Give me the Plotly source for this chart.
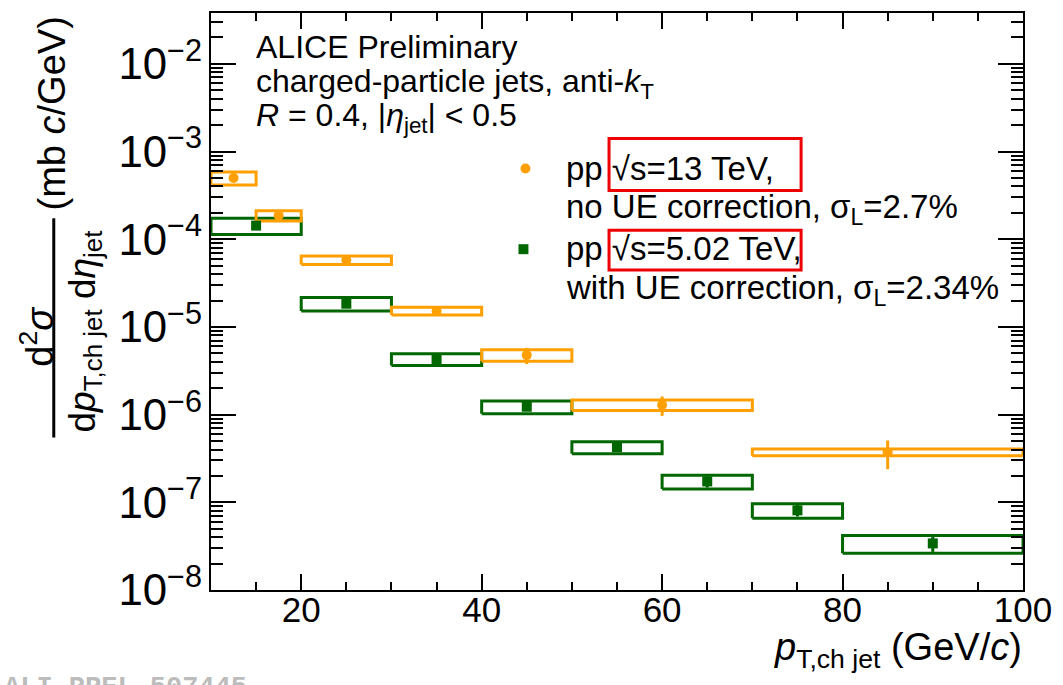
import numpy as np
import plotly.graph_objects as go

# ---------------- data ----------------
# pp 13 TeV, no UE correction
pt13_lo = [10, 15, 20, 30, 40, 50, 70]
pt13_hi = [15, 20, 30, 40, 50, 70, 100]
xs13 = [5.0e-4, 1.86e-4, 5.8e-5, 1.52e-5, 4.77e-6, 1.29e-6, 3.73e-7]
stat13 = [0.03, 0.03, 0.03, 0.04, 0.21, 0.25, 0.36]   # relative
sys13 = [0.17, 0.135, 0.11, 0.10, 0.15, 0.135, 0.09]   # relative

# pp 5.02 TeV, with UE correction
pt5_lo = [10, 20, 30, 40, 50, 60, 70, 80]
pt5_hi = [20, 30, 40, 50, 60, 70, 80, 100]
xs5 = [1.43e-4, 1.84e-5, 4.30e-6, 1.23e-6, 4.25e-7, 1.73e-7, 8.1e-8, 3.40e-8]
stat5 = [0.02, 0.02, 0.03, 0.08, 0.08, 0.15, 0.15, 0.2]
sys5 = [0.21, 0.175, 0.153, 0.166, 0.157, 0.18, 0.19, 0.23]

x_ticks = [20, 40, 60, 80, 100]

ORANGE = "#ffa000"
GREEN = "#006600"
FONT = "Liberation Sans"

# ---------------- layout geometry (pixels) ----------------
WIDTH, HEIGHT = 1063, 685
L, R, T, B = 211, 1027, 11, 590
PW, PH = R - L, B - T


def px(x):
    return (x - L) / PW


def py(y):
    return (B - y) / PH


def box_path(lo, hi, val, rel):
    xx, yy = [], []
    for a, b, v, s in zip(lo, hi, val, rel):
        y0, y1 = v * (1 - s), v * (1 + s)
        xx += [a, b, b, a, a, None]
        yy += [y0, y0, y1, y1, y0, None]
    return xx, yy


fig = go.Figure()

# systematic boxes
for lo, hi, val, sy, col in [(pt5_lo, pt5_hi, xs5, sys5, GREEN),
                             (pt13_lo, pt13_hi, xs13, sys13, ORANGE)]:
    bx, by = box_path(lo, hi, val, sy)
    fig.add_trace(go.Scatter(x=bx, y=by, mode="lines",
                             line=dict(color=col, width=3),
                             hoverinfo="skip", showlegend=False))

# points with stat errors
c13 = [(a + b) / 2 for a, b in zip(pt13_lo, pt13_hi)]
c5 = [(a + b) / 2 for a, b in zip(pt5_lo, pt5_hi)]
fig.add_trace(go.Scatter(
    x=c5, y=xs5, mode="markers",
    marker=dict(symbol="square", size=10, color=GREEN),
    error_y=dict(type="data", array=[v * s for v, s in zip(xs5, stat5)],
                 color=GREEN, thickness=3, width=0),
    showlegend=False))
fig.add_trace(go.Scatter(
    x=c13, y=xs13, mode="markers",
    marker=dict(symbol="circle", size=10, color=ORANGE),
    error_y=dict(type="data", array=[v * s for v, s in zip(xs13, stat13)],
                 color=ORANGE, thickness=3, width=0),
    showlegend=False))

fig.update_layout(
    width=WIDTH, height=HEIGHT,
    margin=dict(l=L, r=WIDTH - R, t=T, b=HEIGHT - B),
    paper_bgcolor="white", plot_bgcolor="white",
    font=dict(family=FONT, color="black"),
    showlegend=False,
)

fig.update_xaxes(
    range=[10, 100], tickvals=x_ticks, ticktext=[str(v) for v in x_ticks],
    ticks="inside", ticklen=16, tickwidth=1.5, tickcolor="black",
    minor=dict(ticks="inside", ticklen=8, tickwidth=1.5, tickcolor="black", dtick=5, tick0=0),
    showline=True, linewidth=2, linecolor="black", mirror="allticks",
    showgrid=False, zeroline=False,
    tickfont=dict(size=35, family=FONT),
    ticklabelstandoff=-12,
)
fig.update_yaxes(
    type="log", range=[-8, np.log10(0.038)], dtick=1,
    exponentformat="power",
    ticks="inside", ticklen=25, tickwidth=1.5, tickcolor="black",
    minor=dict(ticks="inside", ticklen=12, tickwidth=1.5, tickcolor="black", dtick="D1"),
    showline=True, linewidth=2, linecolor="black", mirror="allticks",
    showgrid=False, zeroline=False,
    tickfont=dict(size=35, family=FONT),
)

ann = []


def text_line(x, baseline, txt, size=32, **kw):
    ann.append(dict(xref="paper", yref="paper", x=px(x), y=py(baseline - 0.905 * size),
                    xanchor="left", yanchor="top", text=txt, showarrow=False,
                    borderpad=0, font=dict(size=size, family=FONT, color="black"), **kw))


# top-left labels
text_line(255, 55, "ALICE Preliminary")
text_line(255, 89, "charged-particle jets, anti-<i>k</i><sub>T</sub>")
text_line(255, 123, "<i>R</i> = 0.4, |<i>η</i><sub>jet</sub>| &lt; 0.5")

# legend text
text_line(567, 177, "pp √s=13 TeV,", size=33)
text_line(567, 215, "no UE correction, σ<sub>L</sub>=2.7%", size=33)
text_line(567, 258, "pp √s=5.02 TeV,", size=33)
text_line(567, 297, "with UE correction, σ<sub>L</sub>=2.34%", size=33)

# x-axis title
ann.append(dict(xref="paper", yref="paper", x=px(1027), y=py(660 - 0.905 * 38),
                xanchor="right", yanchor="top", showarrow=False, borderpad=0,
                text="<i>p</i><sub>T,ch jet</sub> (GeV/<i>c</i>)",
                font=dict(size=38, family=FONT, color="black")))

# y-axis title (rotated fraction)
ann.append(dict(xref="paper", yref="paper", x=px(36), y=py(335),
                xanchor="center", yanchor="middle", textangle=-90, showarrow=False,
                text="d<sup>2</sup><i>σ</i>", font=dict(size=38, family=FONT, color="black")))
ann.append(dict(xref="paper", yref="paper", x=px(84), y=py(331),
                xanchor="center", yanchor="middle", textangle=-90, showarrow=False,
                text="d<i>p</i><sub>T,ch jet</sub> d<i>η</i><sub>jet</sub>",
                font=dict(size=37, family=FONT, color="black")))
ann.append(dict(xref="paper", yref="paper", x=px(51), y=py(112),
                xanchor="center", yanchor="middle", textangle=-90, showarrow=False,
                text="(mb <i>c</i>/GeV)", font=dict(size=38, family=FONT, color="black")))

# watermark
ann.append(dict(xref="paper", yref="paper", x=px(2), y=py(672),
                xanchor="left", yanchor="top", showarrow=False, borderpad=0,
                text="<b>ALI-PREL-507445</b>",
                font=dict(size=27, family="Liberation Mono", color="#bcbcbc")))

fig.update_layout(annotations=ann)

shapes = []
# fraction bar of y title
shapes.append(dict(type="line", xref="paper", yref="paper",
                   x0=px(53), x1=px(53), y0=py(217), y1=py(437),
                   line=dict(color="black", width=3)))
# legend symbols
r = 5
shapes.append(dict(type="circle", xref="paper", yref="paper",
                   x0=px(527 - r), x1=px(527 + r), y0=py(167 + r), y1=py(167 - r),
                   fillcolor=ORANGE, line=dict(width=0)))
shapes.append(dict(type="rect", xref="paper", yref="paper",
                   x0=px(525 - r), x1=px(525 + r), y0=py(248 + r), y1=py(248 - r),
                   fillcolor=GREEN, line=dict(width=0)))
# red highlight boxes
for (x0, y0, x1, y1) in [(611, 137, 804, 189), (611, 229, 804, 269)]:
    shapes.append(dict(type="rect", xref="paper", yref="paper",
                       x0=px(x0), x1=px(x1), y0=py(y1), y1=py(y0),
                       line=dict(color="#ee0000", width=3)))
fig.update_layout(shapes=shapes)

fig.write_html("out.html")
